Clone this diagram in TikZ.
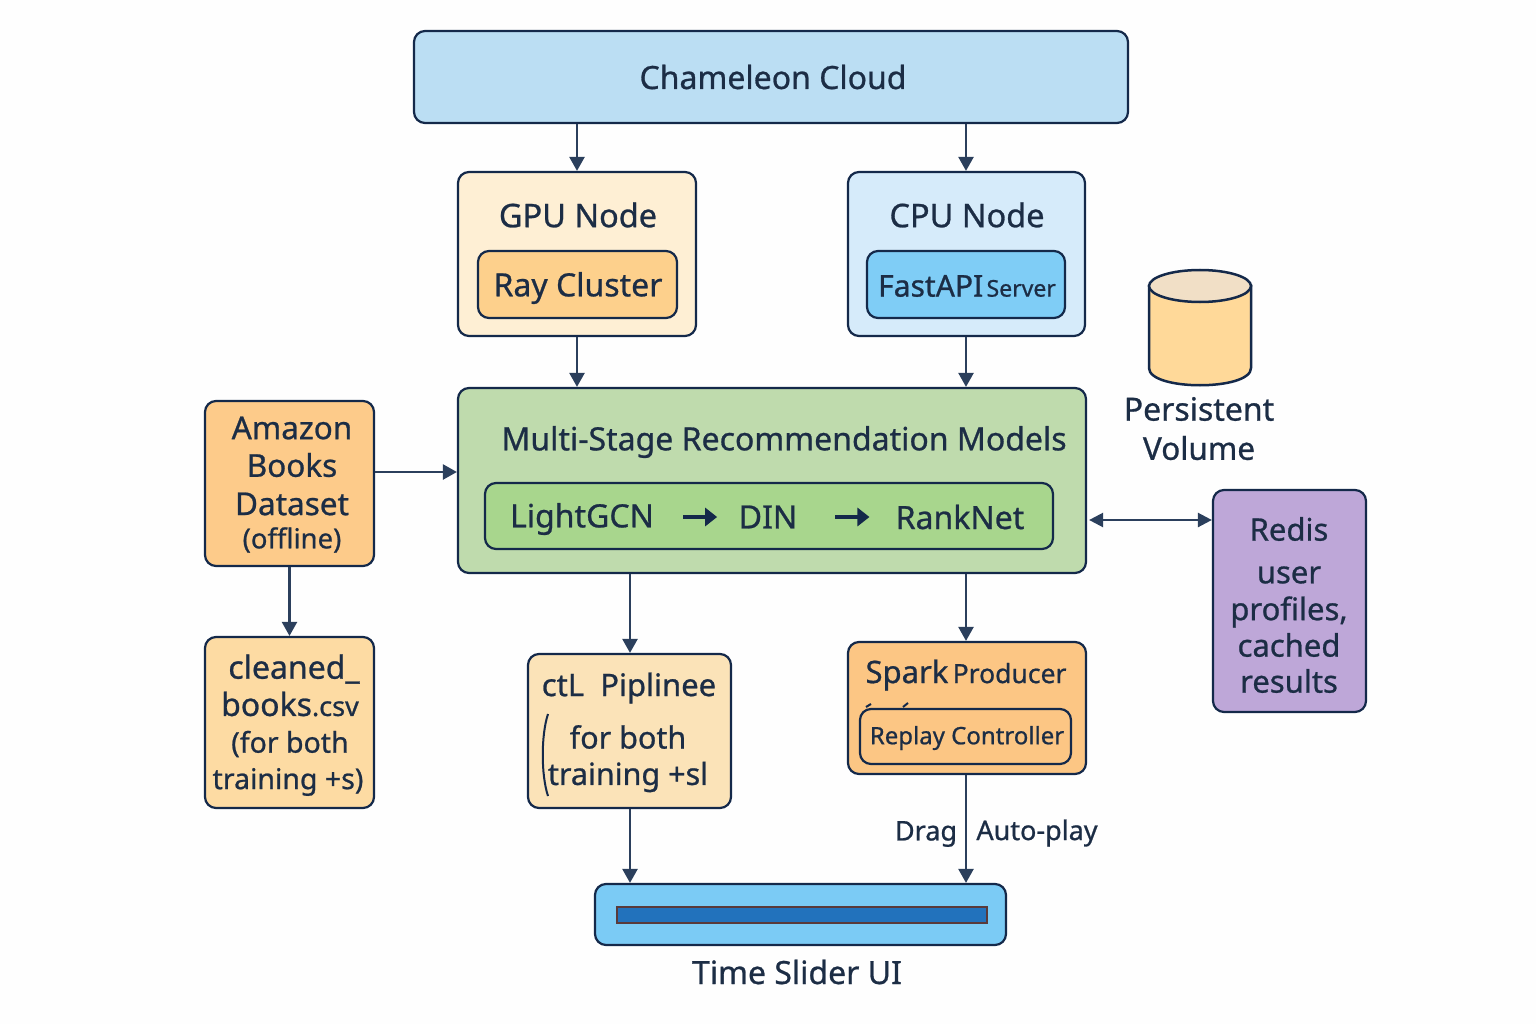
\documentclass[tikz,border=0pt]{standalone}
\usepackage{fontspec}
\setmainfont{Noto Sans}[RawFeature={embolden=0.8}]
\usetikzlibrary{arrows.meta,calc}
\definecolor{ink}{HTML}{14294A}
\definecolor{txt}{HTML}{1C2D45}
\definecolor{linec}{HTML}{2B3F5C}
\definecolor{cloudc}{HTML}{BBDEF3}
\definecolor{gpuc}{HTML}{FEEFD4}
\definecolor{rayc}{HTML}{FDD08C}
\definecolor{cpuc}{HTML}{D6EBFA}
\definecolor{fastc}{HTML}{7FCDF6}
\definecolor{multic}{HTML}{BFDBAD}
\definecolor{innerc}{HTML}{A8D68D}
\definecolor{amazonc}{HTML}{FDCB8A}
\definecolor{cleanc}{HTML}{FDDBA3}
\definecolor{ctlc}{HTML}{FBE3B8}
\definecolor{sparkc}{HTML}{FCC684}
\definecolor{redisc}{HTML}{BEA7D8}
\definecolor{sliderc}{HTML}{7BCBF5}
\definecolor{barc}{HTML}{2272BC}
\definecolor{barl}{HTML}{5A3A3A}
\definecolor{cylc}{HTML}{FFD999}
\definecolor{cylt}{HTML}{F1DFC6}
\tikzset{
 box/.style={draw=ink,line width=2.2pt,rounded corners=11pt,inner sep=0pt,anchor=center,text=txt,align=center},
 lbl/.style={text=txt,inner sep=0pt,anchor=center,align=center},
 conn/.style={draw=linec,line width=2.4pt,-{Triangle[length=14pt,width=15pt]}},
 twoway/.style={draw=linec,line width=2.4pt,{Triangle[length=14pt,width=14pt]}-{Triangle[length=14pt,width=14pt]}},
 flow/.style={draw=ink,line width=4.5pt,-{Triangle[length=12pt,width=18pt]}},
}
\newcommand{\fs}[1]{\fontsize{#1}{#1}\selectfont}
\newcommand{\bx}[7]{\node[box,fill=#2,minimum width=#5pt-#3pt,minimum height=#6pt-#4pt] (#1) at ({(#3+#5)/2},{(#4+#6)/2}) {#7};}
\begin{document}
\begin{tikzpicture}[x=1pt,y=-1pt]
\useasboundingbox (0,0) rectangle (1536,1024);
\fill[white!99!gray] (0,0) rectangle (1536,1024);
% boxes
\bx{cloud}{cloudc}{414}{31}{1128}{123}{}
\bx{gpu}{gpuc}{458}{172}{696}{336}{}
\bx{ray}{rayc}{478}{251}{677}{318}{}
\bx{cpu}{cpuc}{848}{172}{1085}{336}{}
\bx{fast}{fastc}{867}{251}{1065}{318}{}
\bx{multi}{multic}{458}{388}{1086}{573}{}
\bx{inner}{innerc}{485}{483}{1053}{549}{}
\bx{amazon}{amazonc}{205}{401}{374}{566}{}
\bx{clean}{cleanc}{205}{637}{374}{808}{}
\bx{ctl}{ctlc}{528}{654}{731}{808}{}
\bx{spark}{sparkc}{848}{642}{1086}{774}{}
\draw[ink,line width=2pt] (866,707)--(871,704) (903,707)--(908,703);
\bx{replay}{sparkc}{860}{709}{1071}{764}{}
\bx{redis}{redisc}{1213}{490}{1366}{712}{}
\bx{slider}{sliderc}{595}{884}{1006}{945}{}
\node[draw=barl,line width=1.5pt,fill=barc,minimum width=370pt,minimum height=16pt,inner sep=0pt] (bar) at (802,915) {};
% cylinder
\draw[ink,line width=2.5pt,fill=cylc] (1149,286) -- (1149,368) .. controls (1149,391) and (1251,391) .. (1251,368) -- (1251,286) -- cycle;
\draw[ink,line width=2.5pt,fill=cylt] (1200,286) ellipse[x radius=51pt,y radius=16pt];
% labels
\node[lbl,font=\fs{32}] (tcloud) at (773,77) {Chameleon Cloud};
\node[lbl,font=\fs{32.5}] (tgpu) at (578,215) {GPU Node};
\node[lbl,font=\fs{32}] (tray) at (578,288) {Ray Cluster};
\node[lbl,font=\fs{32.5}] (tcpu) at (967,215) {CPU Node};
\node[lbl] (tfast) at (967,286) {{\fs{30}FastAPI}\,\,{\fs{23}Server}};
\node[lbl,font=\fs{32}] (tmulti) at (784,442) {Multi-Stage Recommendation Models};
\node[lbl,font=\fs{32}] (lg) at (582,519) {LightGCN};
\node[lbl,font=\fs{32}] (din) at (768,517) {DIN};
\node[lbl,font=\fs{32}] (rank) at (960,517) {RankNet};
\node[lbl,font=\fs{31.5}] (t1) at (292,428) {Amazon};
\node[lbl,font=\fs{31.5}] (t2) at (292,465) {Books};
\node[lbl,font=\fs{31.5}] (t3) at (292,504) {Dataset};
\node[lbl,font=\fs{27.5}] (t4) at (292,540) {(offline)};
\node[lbl,font=\fs{32}] (c1) at (294,669) {cleaned\_};
\node[lbl] (c2) at (290,704) {{\fs{32}books}{\fs{27}.csv}};
\node[lbl,font=\fs{28.5}] (c3) at (290,744) {(for both};
\node[lbl,font=\fs{28.5}] (c4) at (288,782) {training +s)};
\node[lbl,font=\fs{31}] (k1) at (629,688) {ctL\ \ Piplinee};
\node[lbl,font=\fs{30.5}] (k2) at (628,737) {for both};
\node[lbl,font=\fs{30.5}] (k3) at (628,777) {training +sl};
\draw[ink,line width=2pt] (548,714) .. controls (541,735) and (541,775) .. (548,796);
\node[lbl] (s1) at (966,675) {{\fs{31}Spark}\ \,{\fs{26.5}Producer}};
\node[lbl,font=\fs{24}] (s2) at (967,738) {Replay Controller};
\node[lbl,font=\fs{31}] (r1) at (1289,529) {Redis};
\node[lbl,font=\fs{31}] (r2) at (1289,575) {user};
\node[lbl,font=\fs{31}] (r3) at (1289,612) {profiles,};
\node[lbl,font=\fs{31}] (r4) at (1289,645) {cached};
\node[lbl,font=\fs{31}] (r5) at (1289,681) {results};
\node[lbl,font=\fs{32}] (p1) at (1199,409) {Persistent};
\node[lbl,font=\fs{31.5}] (p2) at (1199,448) {Volume};
\node[lbl,font=\fs{32}] (ui) at (797,972) {Time Slider UI};
\node[lbl,font=\fs{27}] (drag) at (926,834) {Drag};
\node[lbl,font=\fs{27}] (auto) at (1037,833) {Auto-play};
% connectors
\coordinate (xg) at (577,0);
\coordinate (xc) at (966,0);
\draw[conn] (cloud.south -| xg) -- (gpu.north -| xg);
\draw[conn] (cloud.south -| xc) -- (cpu.north -| xc);
\draw[conn] (gpu.south -| xg) -- (multi.north -| xg);
\draw[conn] (cpu.south -| xc) -- (multi.north -| xc);
\draw[conn] ([yshift=11.5pt]amazon.east) -- ([yshift=11.5pt]amazon.east -| multi.west);
\draw[conn] (amazon.south) -- (clean.north);
\coordinate (xk) at (630,0);
\draw[conn] (multi.south -| xk) -- (ctl.north -| xk);
\draw[conn] (ctl.south -| xk) -- (slider.north -| xk);
\draw[conn] (multi.south -| xc) -- (spark.north -| xc);
\draw[conn] (spark.south -| xc) -- (slider.north -| xc);
\coordinate (yr) at (0,520);
\draw[twoway] ([xshift=2pt]multi.east |- yr) -- (redis.west |- yr);
\draw[flow] ($(lg.east)+(29,-2)$) -- ++(34,0);
\draw[flow] ($(din.east)+(38,0)$) -- ++(34,0);
\end{tikzpicture}
\end{document}
